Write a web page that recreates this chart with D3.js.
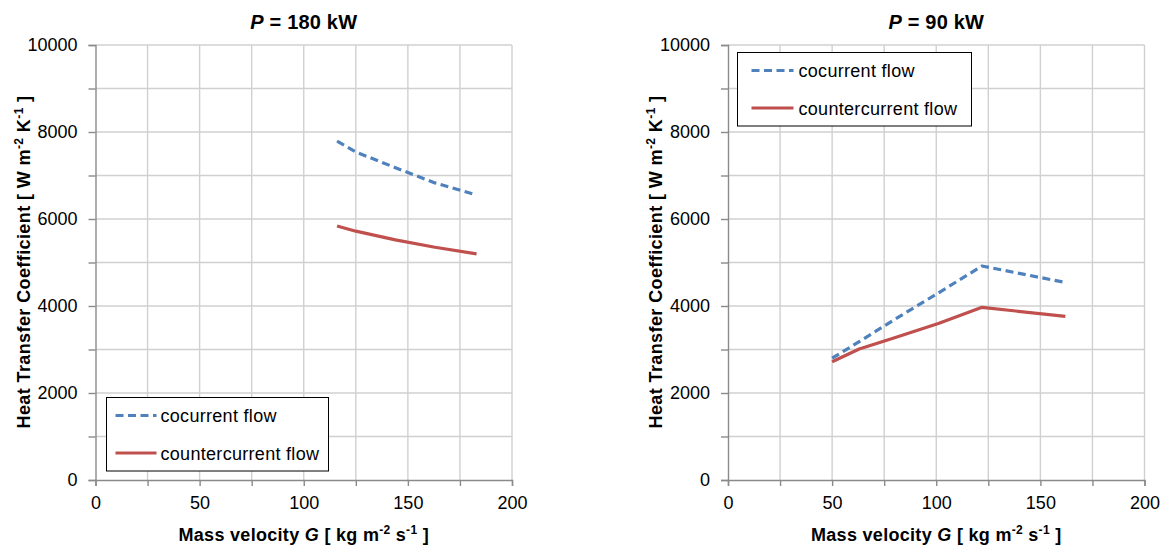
<!DOCTYPE html>
<html>
<head>
<meta charset="utf-8">
<script src="https://cdn.jsdelivr.net/npm/d3@7"></script>
<style>
  html, body { margin: 0; padding: 0; background: #fff; }
  svg { display: block; font-family: "Liberation Sans", Arial, sans-serif; }
</style>
</head>
<body>
<svg id="chart" width="1162" height="546"></svg>
<script>
// Mass velocity G [kg m-2 s-1] and heat transfer coefficient [W m-2 K-1]
const g180 = [116, 125, 144, 163, 183];
const cocurrent180 = [7790, 7540, 7180, 6830, 6550];
const countercurrent180 = [5840, 5720, 5520, 5350, 5200];

const g90 = [50, 63, 80, 101, 122, 162];
const cocurrent90 = [2800, 3180, 3690, 4300, 4920, 4540];
const countercurrent90 = [2720, 3010, 3270, 3600, 3970, 3760];

const xTickLabels = [0, 50, 100, 150, 200];
const yTickLabels = [0, 2000, 4000, 6000, 8000, 10000];
const seriesNames = ["cocurrent flow", "countercurrent flow"];
const panelTitles = ["180 kW", "90 kW"];

const colors = { co: "#4F81BD", counter: "#C0504D" };
const svg = d3.select("#chart");

function panel(opts) {
  const x = d3.scaleLinear().domain([0, 200]).range([opts.left, opts.left + 416.5]);
  const y = d3.scaleLinear().domain([0, 10000]).range([480, 45]);
  const g = svg.append("g");

  // grid
  g.append("g").selectAll("line").data(d3.range(25, 201, 25)).join("line")
    .attr("x1", d => x(d)).attr("x2", d => x(d)).attr("y1", y(0)).attr("y2", y(10000))
    .attr("stroke", "#d0d0d0").attr("stroke-width", 1.4);
  g.append("g").selectAll("line").data(d3.range(1000, 10001, 1000)).join("line")
    .attr("x1", x(0)).attr("x2", x(200)).attr("y1", d => y(d)).attr("y2", d => y(d))
    .attr("stroke", "#d0d0d0").attr("stroke-width", 1.4);

  // axes
  const xAxis = d3.axisBottom(x).tickValues(d3.range(0, 201, 25)).tickSize(6)
    .tickFormat(d => xTickLabels.includes(d) ? d : "");
  const yAxis = d3.axisLeft(y).tickValues(d3.range(0, 10001, 1000)).tickSize(7)
    .tickFormat(d => yTickLabels.includes(d) ? d : "");
  const ax = g.append("g").attr("transform", `translate(0,${y(0)})`).call(xAxis);
  const ay = g.append("g").attr("transform", `translate(${x(0)},0)`).call(yAxis);
  [ax, ay].forEach(a => {
    a.select(".domain").attr("stroke", "#8a8a8a").attr("stroke-width", 1.4);
    a.selectAll(".tick line").attr("stroke", "#8a8a8a").attr("stroke-width", 1.4);
    a.selectAll(".tick text").attr("fill", "#000").style("font-size", "18px")
      .style("font-family", '"Liberation Sans", Arial, sans-serif');
  });
  ax.selectAll(".tick text").attr("y", 8).attr("dy", "1.17em");
  ay.selectAll(".tick text").attr("x", -18);

  // series
  const line = d3.line().x(d => x(d[0])).y(d => y(d[1]));
  g.append("path").datum(opts.g.map((v, i) => [v, opts.counter[i]]))
    .attr("d", line).attr("fill", "none").attr("stroke", colors.counter)
    .attr("stroke-width", 3.2).attr("stroke-linejoin", "round");
  g.append("path").datum(opts.g.map((v, i) => [v, opts.co[i]]))
    .attr("d", line).attr("fill", "none").attr("stroke", colors.co)
    .attr("stroke-width", 3.2).attr("stroke-dasharray", "8,4.5").attr("stroke-linejoin", "round");

  // title
  const cx = (x(0) + x(200)) / 2;
  const t = g.append("text").attr("x", cx).attr("y", 29).attr("text-anchor", "middle")
    .style("font-size", "20px").style("font-weight", "bold").style("letter-spacing", "0.2px");
  t.append("tspan").style("font-style", "italic").text("P");
  t.append("tspan").text(" = " + opts.title);

  // x axis title
  const xt = g.append("text").attr("x", cx).attr("y", 541).attr("text-anchor", "middle")
    .style("font-size", "18px").style("font-weight", "bold").style("letter-spacing", "0.3px");
  xt.append("tspan").text("Mass velocity ");
  xt.append("tspan").style("font-style", "italic").text("G");
  xt.append("tspan").text(" [ kg m");
  xt.append("tspan").attr("dy", -7).style("font-size", "12px").text("-2");
  xt.append("tspan").attr("dy", 7).text(" s");
  xt.append("tspan").attr("dy", -7).style("font-size", "12px").text("-1");
  xt.append("tspan").attr("dy", 7).text(" ]");

  // y axis title
  const yt = g.append("text")
    .attr("transform", `translate(${opts.left - 66},262) rotate(-90)`)
    .attr("text-anchor", "middle").style("font-size", "18px").style("font-weight", "bold")
    .style("letter-spacing", "0.4px");
  yt.append("tspan").text("Heat Transfer Coefficient [ W m");
  yt.append("tspan").attr("dy", -7).style("font-size", "12px").text("-2");
  yt.append("tspan").attr("dy", 7).text(" K");
  yt.append("tspan").attr("dy", -7).style("font-size", "12px").text("-1");
  yt.append("tspan").attr("dy", 7).text(" ]");

  // legend
  const L = opts.legend;
  const lg = g.append("g").attr("transform", `translate(${L.x},${L.y})`);
  lg.append("rect").attr("width", L.w).attr("height", 73.5).attr("fill", "#fff")
    .attr("stroke", "#000").attr("stroke-width", 1);
  const rows = [
    { name: seriesNames[0], color: colors.co, dash: "8,4.5", ty: 18 },
    { name: seriesNames[1], color: colors.counter, dash: null, ty: 55.5 }
  ];
  rows.forEach(r => {
    lg.append("line").attr("x1", L.l1).attr("x2", L.l2).attr("y1", r.ty).attr("y2", r.ty)
      .attr("stroke", r.color).attr("stroke-width", 3.2)
      .attr("stroke-dasharray", r.dash);
    lg.append("text").attr("x", L.tx).attr("y", r.ty + 6.5).style("font-size", "18px")
      .style("letter-spacing", "0.3px").text(r.name);
  });
}

panel({ left: 95.5, g: g180, co: cocurrent180, counter: countercurrent180, title: panelTitles[0],
        legend: { x: 106.5, y: 397.5, w: 222, l1: 9, l2: 50, tx: 54 } });
panel({ left: 728, g: g90, co: cocurrent90, counter: countercurrent90, title: panelTitles[1],
        legend: { x: 737.5, y: 52.5, w: 234, l1: 14, l2: 56, tx: 61 } });
</script>
</body>
</html>
